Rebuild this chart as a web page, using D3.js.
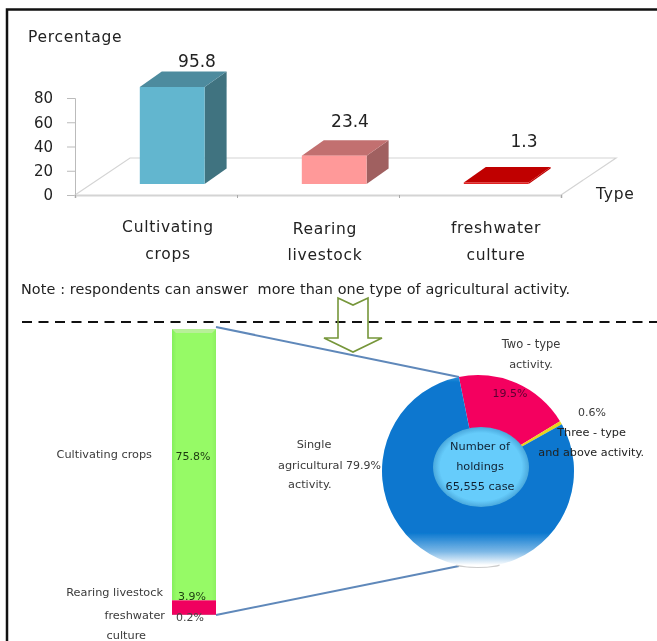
<!DOCTYPE html>
<html><head><meta charset="utf-8">
<script src="https://cdn.jsdelivr.net/npm/d3@7"></script>
<style>html,body{margin:0;padding:0;background:#fff}svg{display:block}text{font-family:"DejaVu Sans",sans-serif;white-space:pre}</style>
</head><body><svg id="c" width="657" height="641"></svg>
<script>
const barCategories = [["Cultivating","crops"],["Rearing","livestock"],["freshwater","culture"]];
const barValues = [95.8, 23.4, 1.3];
const yTicks = [0, 20, 40, 60, 80];
const stackNames = ["Cultivating crops","Rearing livestock","freshwater"];
const stackValues = [75.8, 3.9, 0.2];
const pieValues = [19.5, 0.6, 79.9];
const holdings = "65,555 case";
const barColors = [["#62b6cf","#4d8b9e","#3f7380"],["#ff9999","#c27070","#a06060"],["#e02020","#c00000","#c00000"]];

const svg = d3.select("#c");
const defs = svg.append("defs");
const soft = defs.append("filter").attr("id","soft");
soft.append("feGaussianBlur").attr("stdDeviation",0.35);
const soft2 = defs.append("filter").attr("id","soft2").attr("x","-20%").attr("y","-20%").attr("width","140%").attr("height","140%");
soft2.append("feGaussianBlur").attr("stdDeviation",0.55);
const T = (g,x,y,s,size,anchor="middle",fill="#222",ls=0)=>g.append("text").attr("x",x).attr("y",y).attr("font-size",size).attr("text-anchor",anchor).attr("fill",fill).attr("letter-spacing",ls).attr("dominant-baseline","middle").text(s);

// frame
svg.append("path").attr("d","M7,641V9.5H657").attr("fill","none").attr("stroke","#111").attr("stroke-width",2.5);

// ---- upper chart ----
const upper = svg.append("g").attr("filter","url(#soft)");
const y = d3.scaleLinear().domain([0,80]).range([195,98]).clamp(true);
const x = d3.scaleLinear().domain([0,3]).range([75,561]);
const depthX = 22, depthY = 15.5, lift = 11;
// floor
upper.append("path").attr("d",`M${x(0)},${y(0)}L${x(0)+55},158H${x(3)+55}L${x(3)},${y(0)}`).attr("fill","none").attr("stroke","#d4d4d4").attr("stroke-width",1.2);
const yAxis = d3.axisLeft(y).tickValues(yTicks).tickSize(8).tickPadding(14);
const ya = upper.append("g").attr("transform",`translate(${x(0)},0)`).call(yAxis);
ya.selectAll("path,line").attr("stroke","#bbb");
ya.selectAll("text").attr("font-size",15).attr("fill","#222").attr("font-family","DejaVu Sans");
const xAxis = d3.axisBottom(x).tickValues([0,1,2,3]).tickSize(3).tickFormat("");
const xa = upper.append("g").attr("transform",`translate(0,${y(0)})`).call(xAxis);
xa.selectAll("line").attr("stroke","#aaa");
xa.select("path").attr("stroke","#d4d4d4").attr("stroke-width",2);

const barW = d3.scaleLinear().domain([0,1]).range([0,x(1)-x(0)]);
barValues.forEach((v,i)=>{
  const x0 = x(i)+barW(0.4), x1 = x0+barW(0.4);
  const b = y(0)-lift, t = y(v)-lift;
  const [cf,ct,cs] = barColors[i];
  const g = upper.append("g");
  g.append("path").attr("d",`M${x1},${b}V${t}l${depthX},${-depthY}V${b-depthY}Z`).attr("fill",cs);
  g.append("path").attr("d",`M${x0},${t}H${x1}l${depthX},${-depthY}H${x0+depthX}Z`).attr("fill",ct);
  g.append("rect").attr("x",x0).attr("y",t).attr("width",x1-x0).attr("height",b-t).attr("fill",cf);
});
const valueLabelY = [62,122,142], valueLabelX = [197,350,524];
barValues.forEach((v,i)=>T(upper,valueLabelX[i],valueLabelY[i],v.toFixed(1),17));
const catX=[168,325,496], catY=[[227,254],[229,255],[228,255]];
barCategories.forEach((c,i)=>c.forEach((s,j)=>T(upper,catX[i],catY[i][j],s,15.5,"middle","#222",0.7)));
T(upper,28,37,"Percentage",15.5,"start","#222",0.7);
T(upper,596,194,"Type",15.5,"start","#222",0.7);
T(upper,21,290,"Note : respondents can answer  more than one type of agricultural activity.",14.4,"start","#222",0.1);

// dashed divider
svg.append("line").attr("x1",22).attr("x2",657).attr("y1",322).attr("y2",322).attr("stroke","#111").attr("stroke-width",2).attr("stroke-dasharray","10 6.5");

// ---- lower chart ----
const low = svg.append("g").attr("filter","url(#soft2)");
// connector lines
const lineCol = "#5f88ba";
low.append("line").attr("x1",216).attr("y1",327).attr("x2",459).attr("y2",377).attr("stroke",lineCol).attr("stroke-width",2);
low.append("line").attr("x1",216).attr("y1",615).attr("x2",459).attr("y2",566).attr("stroke",lineCol).attr("stroke-width",2);

// stacked bar
const gGreen = defs.append("linearGradient").attr("id","gGreen");
[[0,"#84ee5c"],[0.1,"#96fa66"],[0.9,"#96fa66"],[1,"#8cf060"]].forEach(s=>gGreen.append("stop").attr("offset",s[0]).attr("stop-color",s[1]));
const stackTotal = d3.sum(stackValues);
const sy = d3.scaleLinear().domain([0,stackTotal]).range([329,615]);
const stackCols = ["url(#gGreen)","#f0055f","#d80058"];
const stacked = d3.stack().keys(stackValues.map((d,i)=>i))([stackValues]);
low.selectAll("rect.s").data(stacked).join("rect").attr("class","s")
  .attr("x",172).attr("width",44).attr("y",d=>sy(d[0][0])).attr("height",d=>sy(d[0][1])-sy(d[0][0])).attr("fill",(d,i)=>stackCols[i]);
low.append("path").attr("d",`M172,${sy(0)}H216L212,${sy(0)+4}H176Z`).attr("fill","#b8f098");
const stackLabelXY = [[193,457],[192,597],[190,618]];
stackValues.forEach((v,i)=>T(low,stackLabelXY[i][0],stackLabelXY[i][1],v.toFixed(1)+"%",11,"middle",i==2?"#444":"#1c3a10"));
T(low,152,455,stackNames[0],11.3,"end","#3a3a3a");
T(low,163,593,stackNames[1],11.3,"end","#3a3a3a");
T(low,165,616,stackNames[2],11.3,"end","#3a3a3a");
T(low,146,636,"culture",11.3,"end","#3a3a3a");

// donut
const cx=478, cy=471, R=96;
const gBlue = defs.append("linearGradient").attr("id","gBlue").attr("gradientUnits","userSpaceOnUse").attr("x1",0).attr("x2",0).attr("y1",-R).attr("y2",R);
[[0,"#3f9ade"],[0.04,"#0877cf"],[0.82,"#0877cf"],[0.92,"#7db8e6"],[0.99,"#ffffff"]].forEach(s=>gBlue.append("stop").attr("offset",s[0]).attr("stop-color",s[1]));
const pieCols = ["#f4045f","#e8d41a","url(#gBlue)"];
const startA = -11.5*Math.PI/180;
const arcs = d3.pie().sort(null).startAngle(startA).endAngle(startA+2*Math.PI)(pieValues);
const arc = d3.arc().innerRadius(0).outerRadius(R);
low.append("ellipse").attr("cx",cx).attr("cy",cy+94).attr("rx",22).attr("ry",3).attr("fill","#ccc");
low.append("g").attr("transform",`translate(${cx},${cy})`).selectAll("path").data(arcs).join("path").attr("d",arc).attr("fill",(d,i)=>pieCols[i]);
const gHole = defs.append("radialGradient").attr("id","gHole");
[[0,"#66ccfb"],[0.85,"#66ccfb"],[1,"#4aa8dc"]].forEach(s=>gHole.append("stop").attr("offset",s[0]).attr("stop-color",s[1]));
low.append("ellipse").attr("cx",481).attr("cy",467).attr("rx",48).attr("ry",40).attr("fill","url(#gHole)");
T(low,480,447,"Number of",11.3,"middle","#123");
T(low,480,467,"holdings",11.3,"middle","#123");
T(low,480,487,holdings,11.3,"middle","#123");
T(low,531,344,"Two - type",11.5,"middle","#3a3a3a");
T(low,531,365,"activity.",11.3,"middle","#3a3a3a");
T(low,510,394,pieValues[0].toFixed(1)+"%",11,"middle","#5a0030");
T(low,592,413,pieValues[1].toFixed(1)+"%",11,"middle","#3a3a3a");
T(low,626,433,"Three - type",11.3,"end","#222");
T(low,644,453,"and above activity.",11.2,"end","#222");
T(low,314,445,"Single",11.3,"middle","#3a3a3a");
T(low,278,466,"agricultural",11.3,"start","#3a3a3a");
T(low,381,466,pieValues[2].toFixed(1)+"%",11,"end","#3a3a3a");
T(low,288,485,"activity.",11.3,"start","#3a3a3a");

// hollow arrow
const arrowCol="#76963a";
const ar = d3.line()([[338,298],[353,305],[368,298],[368,338],[382,338],[353,352],[324,338],[338,338]]);
svg.append("path").attr("d",ar+"Z").attr("fill","none").attr("stroke",arrowCol).attr("stroke-width",1.6);
</script></body></html>
